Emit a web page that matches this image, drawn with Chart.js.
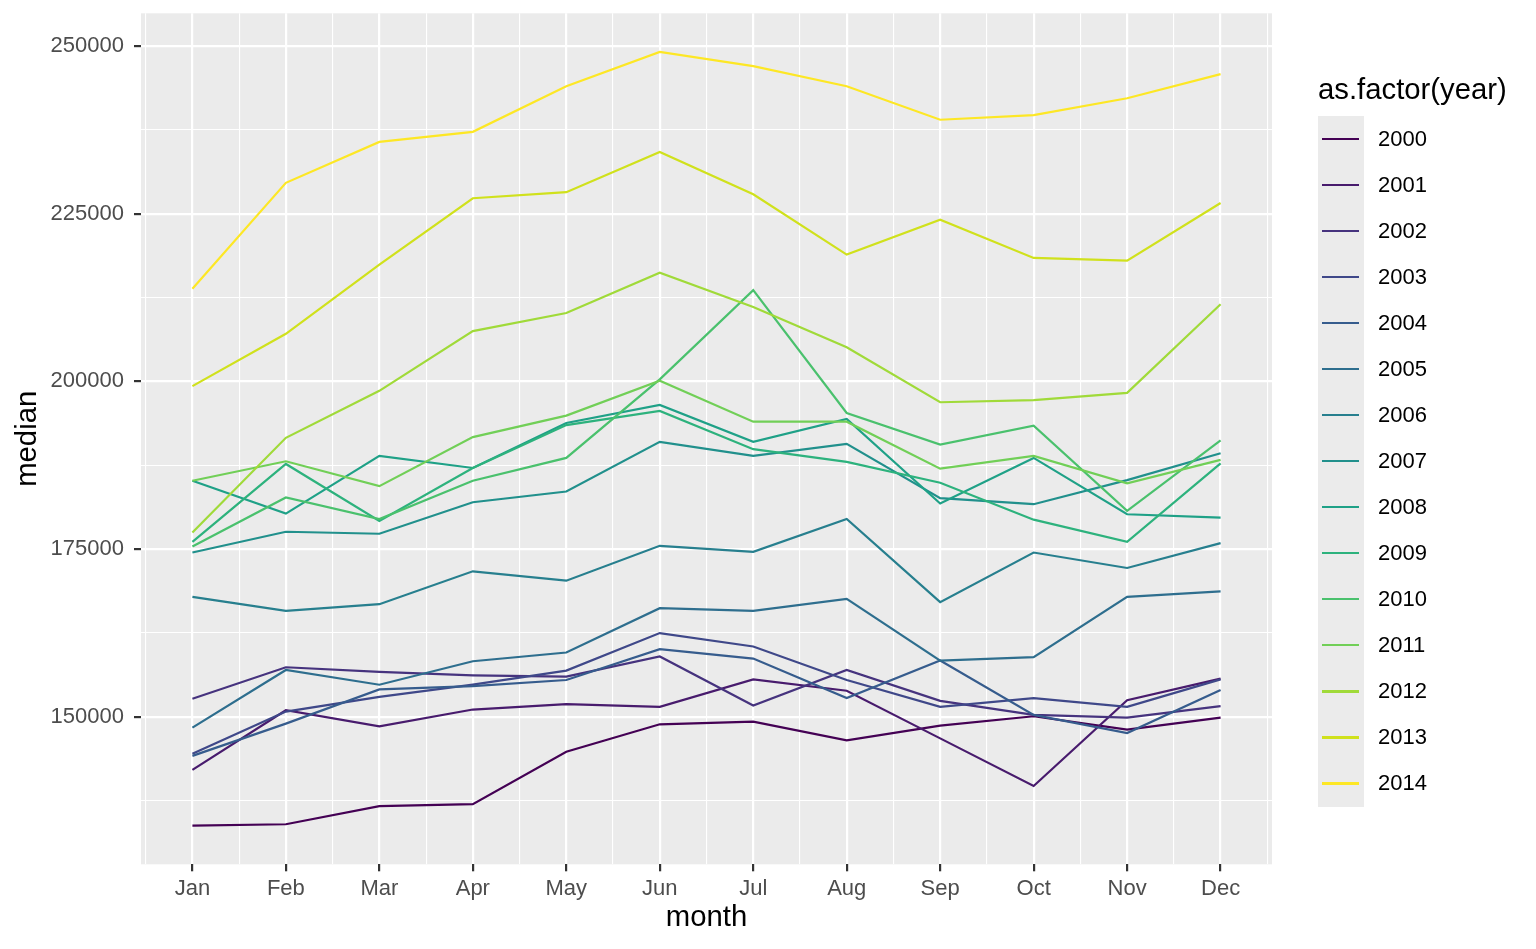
<!DOCTYPE html>
<html>
<head>
<meta charset="utf-8">
<title>median by month</title>
<script src="https://cdn.jsdelivr.net/npm/chart.js@4.4.1/dist/chart.umd.min.js"></script>
<style>
  body { margin: 0; background: #ffffff; }
  #wrap { position: relative; width: 1536px; height: 949px; }
  #legend { position: absolute; left: 1318px; top: 0; font-family: "Liberation Sans", Arial, sans-serif; color: #000; }
  .legend-title { position: absolute; left: 0; top: 73px; font-size: 29.3px; line-height: 32px; white-space: nowrap; }
  .legend-row { position: absolute; left: 0; height: 46.07px; width: 200px; }
  .legend-key { position: absolute; left: 0; top: 0; width: 46px; height: 46.07px; background: #ebebeb; }
  .legend-line { position: absolute; left: 4px; top: 22px; width: 37px; height: 2.2px; }
  .legend-label { position: absolute; left: 60px; top: 0; line-height: 46px; font-size: 22px; }
</style>
</head>
<body>
<div id="wrap">
  <canvas id="myChart" width="1536" height="949"></canvas>
  <div id="legend"></div>
</div>
<script>
var months = ["Jan", "Feb", "Mar", "Apr", "May", "Jun", "Jul", "Aug", "Sep", "Oct", "Nov", "Dec"];
var years = [2000, 2001, 2002, 2003, 2004, 2005, 2006, 2007, 2008, 2009, 2010, 2011, 2012, 2013, 2014];

var median2000 = [133800, 134000, 136700, 137000, 144800, 148900, 149300, 146500, 148700, 150100, 148100, 149900];
var median2001 = [142100, 151000, 148600, 151100, 151900, 151500, 155600, 153900, 146800, 139700, 152500, 155700];
var median2002 = [152700, 157400, 156700, 156200, 156000, 159000, 151700, 157000, 152400, 150300, 149900, 151600];
var median2003 = [144500, 150800, 153000, 154800, 156900, 162500, 160500, 155500, 151500, 152800, 151500, 155600];
var median2004 = [144200, 149000, 154100, 154600, 155500, 160100, 158700, 152800, 158400, 150300, 147600, 154000];
var median2005 = [148400, 157000, 154800, 158300, 159600, 166200, 165800, 167600, 158400, 158900, 167900, 168700];
var median2006 = [167900, 165800, 166800, 171700, 170300, 175500, 174600, 179500, 167100, 174500, 172200, 175900];
var median2007 = [174500, 177600, 177300, 182000, 183600, 191000, 188900, 190700, 182600, 181700, 185300, 189300];
var median2008 = [185200, 180300, 188900, 187100, 193800, 196500, 191000, 194400, 181800, 188600, 180200, 179700];
var median2009 = [176100, 187700, 179200, 187100, 193500, 195600, 189900, 188000, 184900, 179400, 176100, 187800];
var median2010 = [175400, 182700, 179500, 185200, 188600, 200300, 213600, 195300, 190600, 193400, 180700, 191200];
var median2011 = [185200, 188100, 184400, 191700, 194900, 200100, 194000, 194000, 187000, 188900, 184800, 188300];
var median2012 = [177500, 191600, 198600, 207500, 210200, 216200, 211100, 205100, 196900, 197200, 198300, 211500];
var median2013 = [199300, 207100, 217400, 227300, 228200, 234200, 227900, 218900, 224100, 218400, 218000, 226600];
var median2014 = [213800, 229600, 235700, 237200, 244000, 249100, 247000, 244000, 239000, 239700, 242200, 245800];

var yTicks = [137500, 150000, 162500, 175000, 187500, 200000, 212500, 225000, 237500, 250000];

var series = [median2000, median2001, median2002, median2003, median2004, median2005, median2006, median2007,
    median2008, median2009, median2010, median2011, median2012, median2013, median2014];

// viridis, 15 steps
var palette = ["#440154", "#481B6D", "#46337E", "#3F4889", "#365C8D", "#2E6E8E", "#277F8E", "#21908C",
    "#1FA187", "#2DB27D", "#4AC16D", "#71CF57", "#A0DA39", "#D0E11C", "#FDE725"];

var fontFamily = '"Liberation Sans", Arial, Helvetica, sans-serif';

function isMajorY(v) {
    return v % 25000 === 0;
}

function renderChart() {
    var datasets = [];
    for (var i = 0; i < years.length; i++) {
        var pts = [];
        for (var j = 0; j < months.length; j++) {
            pts.push({ x: j + 1, y: series[i][j] });
        }
        datasets.push({
            label: String(years[i]),
            data: pts,
            borderColor: palette[i],
            backgroundColor: palette[i],
            borderWidth: 2.2,
            pointRadius: 0,
            tension: 0,
            fill: false,
            order: years.length - i
        });
    }

    var all = [].concat.apply([], series);
    var lo = Math.min.apply(null, all);
    var hi = Math.max.apply(null, all);
    var pad = (hi - lo) * 0.05;

    var xTicks = [];
    for (var k = 0; k < months.length; k++) {
        xTicks.push(k + 0.5, k + 1);
    }
    xTicks.push(months.length + 0.5);

    var panelBg = {
        id: "panelBg",
        beforeDraw: function (chart) {
            var a = chart.chartArea;
            var c = chart.ctx;
            c.save();
            c.fillStyle = "#ebebeb";
            c.fillRect(a.left, a.top, a.right - a.left, a.bottom - a.top);
            c.restore();
        }
    };

    var ctx = document.getElementById("myChart").getContext('2d');
    var myChart = new Chart(ctx, {
        type: 'line',
        data: { datasets: datasets },
        plugins: [panelBg],
        options: {
            responsive: false,
            animation: false,
            devicePixelRatio: 1,
            layout: { padding: { top: 13.3, right: 264, bottom: 0, left: 0 } },
            plugins: {
                legend: { display: false },
                tooltip: { enabled: false }
            },
            scales: {
                x: {
                    type: 'linear',
                    min: 1 - 11 * 0.05,
                    max: 12 + 11 * 0.05,
                    afterBuildTicks: function (scale) {
                        scale.ticks = xTicks.map(function (v) { return { value: v }; });
                    },
                    afterFit: function (scale) {
                        scale.height = 84.7;
                        scale.paddingLeft = 0;
                        scale.paddingRight = 0;
                    },
                    border: { display: false },
                    grid: {
                        color: '#ffffff',
                        lineWidth: function (c) { return Number.isInteger(c.tick.value) ? 2.2 : 1.1; },
                        tickColor: function (c) { return Number.isInteger(c.tick.value) ? '#333333' : 'rgba(0,0,0,0)'; },
                        tickWidth: 2.2,
                        tickLength: 7
                    },
                    ticks: {
                        autoSkip: false,
                        maxRotation: 0,
                        padding: 4,
                        color: '#4d4d4d',
                        font: { family: fontFamily, size: 22 },
                        callback: function (v) { return Number.isInteger(v) ? months[v - 1] : ''; }
                    },
                    title: {
                        display: true,
                        text: 'month',
                        color: '#000000',
                        font: { family: fontFamily, size: 29.3 },
                        padding: { top: 0, bottom: 13.4 }
                    }
                },
                y: {
                    type: 'linear',
                    min: lo - pad,
                    max: hi + pad,
                    afterBuildTicks: function (scale) {
                        scale.ticks = yTicks.map(function (v) { return { value: v }; });
                    },
                    afterFit: function (scale) {
                        scale.width = 141;
                        scale.paddingTop = 0;
                        scale.paddingBottom = 0;
                    },
                    border: { display: false },
                    grid: {
                        color: '#ffffff',
                        lineWidth: function (c) { return isMajorY(c.tick.value) ? 2.2 : 1.1; },
                        tickColor: function (c) { return isMajorY(c.tick.value) ? '#333333' : 'rgba(0,0,0,0)'; },
                        tickWidth: 2.2,
                        tickLength: 7
                    },
                    ticks: {
                        padding: 10,
                        color: '#4d4d4d',
                        font: { family: fontFamily, size: 22 },
                        callback: function (v) { return isMajorY(v) ? String(v) : ''; }
                    },
                    title: {
                        display: true,
                        text: 'median',
                        color: '#000000',
                        font: { family: fontFamily, size: 29.3 },
                        padding: { top: 10.4, bottom: 0 }
                    }
                }
            }
        }
    });
    return myChart;
}

function renderLegend() {
    var box = document.getElementById("legend");
    var title = document.createElement('div');
    title.className = "legend-title";
    title.textContent = "as.factor(year)";
    box.appendChild(title);

    for (var i = 0; i < years.length; i++) {
        var row = document.createElement('div');
        row.className = "legend-row";
        row.style.top = (115.5 + i * 46.07) + "px";
        var key = document.createElement('div');
        key.className = "legend-key";
        var line = document.createElement('div');
        line.className = "legend-line";
        line.style.background = palette[i];
        key.appendChild(line);
        var label = document.createElement('div');
        label.className = "legend-label";
        label.textContent = String(years[i]);
        row.appendChild(key);
        row.appendChild(label);
        box.appendChild(row);
    }
}

renderChart();
renderLegend();
</script>
</body>
</html>
